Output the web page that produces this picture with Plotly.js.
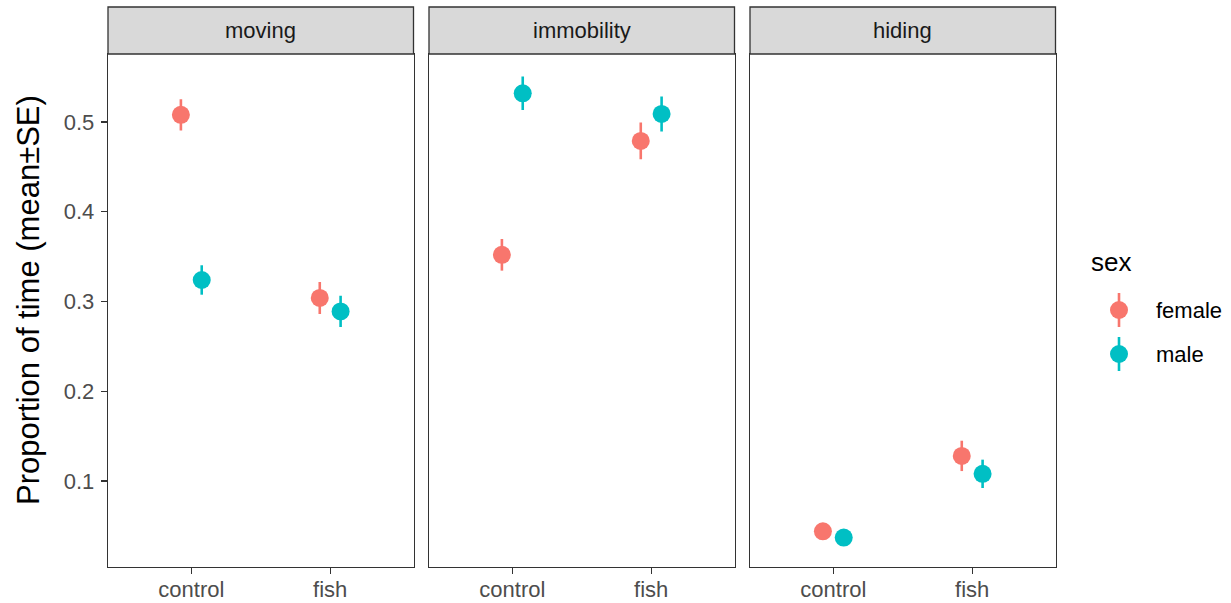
<!DOCTYPE html>
<html>
<head>
<meta charset="utf-8">
<script src="https://cdn.plot.ly/plotly-3.0.1.min.js"></script>
<style>
  html, body { margin: 0; padding: 0; background: #ffffff; }
  #chart { width: 1231px; height: 603px; }
</style>
</head>
<body>
<div id="chart"></div>
<script>
// Behaviour facets and treatments
const facets = ['moving', 'immobility', 'hiding'];
const treatments = ['control', 'fish'];
const sexes = ['female', 'male'];

// Mean proportion of time and SE, ordered facet by facet: [control, fish] for each
const femaleMean = [0.508, 0.304, 0.352, 0.479, 0.044, 0.128];
const femaleSE   = [0.0173, 0.0178, 0.0176, 0.0206, 0.007, 0.0169];
const maleMean   = [0.324, 0.289, 0.532, 0.509, 0.037, 0.108];
const maleSE     = [0.0164, 0.0174, 0.0186, 0.0195, 0.007, 0.0158];

const yTicks = [0.1, 0.2, 0.3, 0.4, 0.5];
const yTickText = ['0.1', '0.2', '0.3', '0.4', '0.5'];

const sexColors = { female: '#F8766D', male: '#00BFC4' };
const dodge = 0.075;

const W = 1231, H = 603;
const FONT = 'Liberation Sans, Arial, Helvetica, sans-serif';
const px = x => x / W;
const py = y => 1 - y / H;

// Panel geometry in pixels
const panelLeft = [108, 429, 750];
const panelWidth = 305.5;
const panelTop = 54, panelBottom = 567, stripTop = 7;

const seriesFor = { female: [femaleMean, femaleSE], male: [maleMean, maleSE] };

const traces = [];
facets.forEach((f, i) => {
  const sfx = i === 0 ? '' : String(i + 1);
  sexes.forEach((s, k) => {
    const [means, ses] = seriesFor[s];
    const off = k === 0 ? -dodge : dodge;
    traces.push({
      type: 'scatter',
      mode: 'markers',
      name: s,
      showlegend: false,
      xaxis: 'x' + sfx,
      yaxis: 'y' + sfx,
      x: treatments.map((t, j) => j + 1 + off),
      y: treatments.map((t, j) => means[i * 2 + j]),
      error_y: {
        type: 'data',
        array: treatments.map((t, j) => ses[i * 2 + j]),
        visible: true,
        color: sexColors[s],
        thickness: 2.6,
        width: 0
      },
      marker: { color: sexColors[s], size: 18, line: { width: 0 } },
      hoverinfo: 'skip'
    });
  });
});

const xAxisBase = {
  range: [0.4, 2.6],
  tickmode: 'array',
  tickvals: [1, 2],
  ticktext: treatments,
  ticks: 'outside',
  ticklen: 6,
  tickwidth: 1.3,
  tickcolor: '#333333',
  ticklabelstandoff: -4,
  showline: true,
  mirror: true,
  linecolor: '#333333',
  linewidth: 1.3,
  showgrid: false,
  zeroline: false,
  fixedrange: true,
  tickfont: { family: FONT, size: 22, color: '#4D4D4D' }
};
const yAxisBase = {
  range: [0.0042, 0.5758],
  domain: [py(panelBottom), py(panelTop)],
  showline: true,
  mirror: true,
  linecolor: '#333333',
  linewidth: 1.3,
  showgrid: false,
  zeroline: false,
  fixedrange: true
};

const layout = {
  width: W,
  height: H,
  margin: { l: 0, r: 0, t: 0, b: 0, pad: 0 },
  paper_bgcolor: '#ffffff',
  plot_bgcolor: '#ffffff',
  showlegend: false,
  font: { family: FONT },
  shapes: [],
  annotations: []
};

facets.forEach((f, i) => {
  const sfx = i === 0 ? '' : String(i + 1);
  const x0 = panelLeft[i], x1 = panelLeft[i] + panelWidth;
  layout['xaxis' + sfx] = Object.assign({}, xAxisBase, {
    domain: [px(x0), px(x1)],
    anchor: 'y' + sfx
  });
  const yAx = Object.assign({}, yAxisBase, { anchor: 'x' + sfx });
  if (i === 0) {
    Object.assign(yAx, {
      tickmode: 'array',
      tickvals: yTicks,
      ticktext: yTickText,
      ticks: 'outside',
      ticklen: 6,
      tickwidth: 1.3,
      tickcolor: '#333333',
      ticklabelstandoff: 2,
      tickfont: { family: FONT, size: 22, color: '#4D4D4D' }
    });
  } else {
    Object.assign(yAx, { matches: 'y', showticklabels: false, ticks: '' });
  }
  layout['yaxis' + sfx] = yAx;

  // facet strip
  layout.shapes.push({
    type: 'rect', xref: 'paper', yref: 'paper',
    x0: px(x0), x1: px(x1), y0: py(panelTop), y1: py(stripTop),
    fillcolor: '#D9D9D9',
    line: { color: '#333333', width: 1.3 },
    layer: 'above'
  });
  layout.annotations.push({
    xref: 'paper', yref: 'paper',
    x: px((x0 + x1) / 2), y: py((stripTop + panelTop) / 2),
    xanchor: 'center', yanchor: 'middle',
    text: f, showarrow: false,
    font: { family: FONT, size: 22, color: '#1A1A1A' }
  });
});

// y axis title
layout.annotations.push({
  xref: 'paper', yref: 'paper',
  x: px(28), y: py(300),
  xanchor: 'center', yanchor: 'middle',
  textangle: -90,
  text: 'Proportion of time (mean±SE)', showarrow: false,
  font: { family: FONT, size: 31, color: '#000000' }
});

// legend
layout.annotations.push({
  xref: 'paper', yref: 'paper',
  x: px(1089), y: py(262),
  xanchor: 'left', yanchor: 'middle',
  text: 'sex', showarrow: false,
  font: { family: FONT, size: 26, color: '#000000' }
});
const legendRows = [310, 354];
sexes.forEach((s, k) => {
  const cy = legendRows[k], cx = 1119, r = 9;
  layout.shapes.push({
    type: 'line', xref: 'paper', yref: 'paper',
    x0: px(cx), x1: px(cx), y0: py(cy - 17), y1: py(cy + 17),
    line: { color: sexColors[s], width: 2.6 }, layer: 'above'
  });
  layout.shapes.push({
    type: 'circle', xref: 'paper', yref: 'paper',
    x0: px(cx - r), x1: px(cx + r), y0: py(cy + r), y1: py(cy - r),
    fillcolor: sexColors[s], line: { width: 0 }, layer: 'above'
  });
  layout.annotations.push({
    xref: 'paper', yref: 'paper',
    x: px(1154), y: py(cy),
    xanchor: 'left', yanchor: 'middle',
    text: s, showarrow: false,
    font: { family: FONT, size: 22, color: '#000000' }
  });
});

Plotly.newPlot('chart', traces, layout, { displayModeBar: false, staticPlot: true });
</script>
</body>
</html>
